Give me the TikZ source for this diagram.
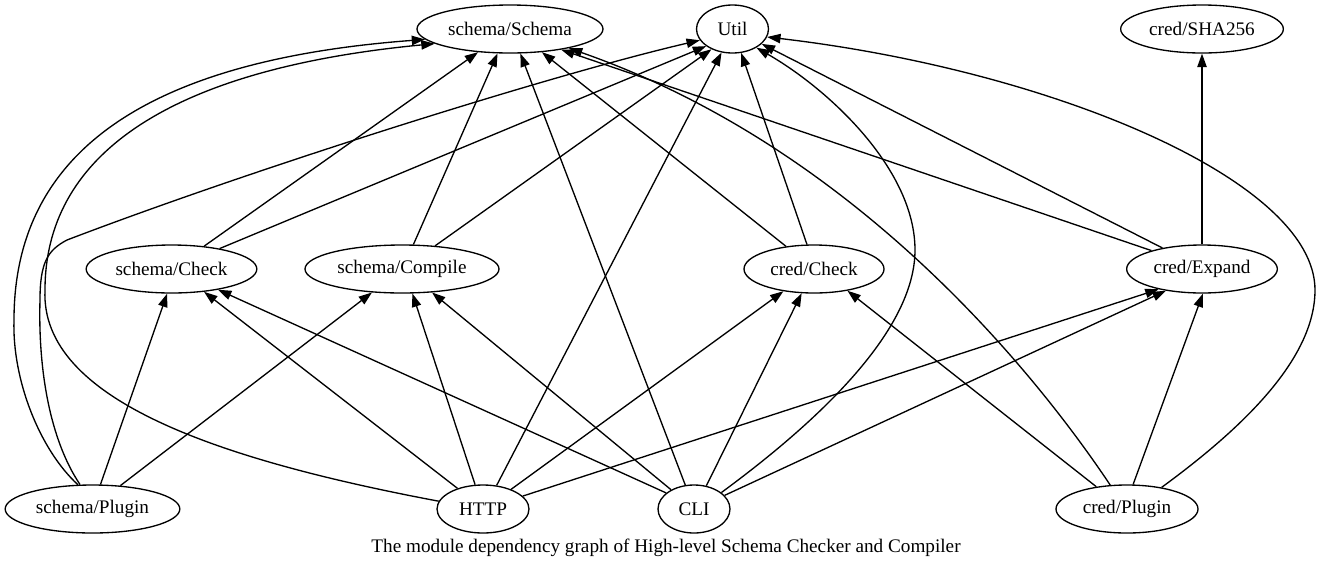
\documentclass[tikz,border=0pt]{standalone}
\usepackage{fontspec}
\setmainfont{Liberation Serif}
\usetikzlibrary{shapes.geometric,arrows.meta}

\tikzset{
    mod/.style={draw, ellipse, line width=1pt, minimum height=36pt, inner sep=0pt,
        font=\fontsize{14.4}{16}\selectfont},
    dep/.style={line width=1pt, -{Triangle[length=10pt,width=7pt]}},
}

\begin{document}
\begin{tikzpicture}[x=0.75pt, y=-0.75pt]
    \useasboundingbox (0,0) rectangle (1332,569);

    % Modules, top row
    \node[mod, minimum width=139.5pt] (schema) at (510,29) {schema/Schema};
    \node[mod, minimum width=54pt] (util) at (732.5,29) {Util};
    \node[mod, minimum width=122pt] (sha) at (1202,29) {cred/SHA256};

    % Modules, middle row
    \node[mod, minimum width=128pt] (scheck) at (171.5,269) {schema/Check};
    \node[mod, minimum width=145.5pt] (scompile) at (402,269) {schema/Compile};
    \node[mod, minimum width=105pt] (ccheck) at (814,269) {cred/Check};
    \node[mod, minimum width=113pt] (cexpand) at (1202,269) {cred/Expand};

    % Modules, bottom row
    \node[mod, minimum width=131pt] (splugin) at (92.5,509) {schema/Plugin};
    \node[mod, minimum width=69pt] (http) at (483,509) {HTTP};
    \node[mod, minimum width=54pt] (cli) at (694,509) {CLI};
    \node[mod, minimum width=106.5pt] (cplugin) at (1127,509) {cred/Plugin};

    % Caption
    \node[font=\fontsize{14.4}{16}\selectfont] (caption) at (666,548)
        {The module dependency graph of High-level Schema Checker and Compiler};

    % Middle row to top row
    \draw[dep] (scheck.35) -- (schema.216);
    \draw[dep] (scheck.23) -- (util.213);
    \draw[dep] (scompile.65) -- (schema.243);
    \draw[dep] (scompile.35) -- (util.224);
    \draw[dep] (ccheck.141) -- (schema.324);
    \draw[dep] (ccheck.106) -- (util.290);
    \draw[dep] (cexpand.160) -- (schema.338);
    \draw[dep] (cexpand.152) -- (util.333);
    \draw[dep] (cexpand.90) -- (sha.270);

    % schema/Plugin
    \draw[dep] (splugin.121) .. controls (40,450) and (12,380) .. (14,320)
        .. controls (14,150) and (150,60) .. (schema.187);
    \draw[dep] (splugin.117) .. controls (50,440) and (38,370) .. (40,300)
        .. controls (40,262) and (48,250) .. (67,240)
        .. controls (250,170) and (550,75) .. (util.199);
    \draw[dep] (splugin.72) -- (scheck.260);
    \draw[dep] (splugin.40) -- (scompile.218);

    % HTTP
    \draw[dep] (http.170) .. controls (220,460) and (40,400) .. (45,290)
        .. controls (45,160) and (160,70) .. (schema.191);
    \draw[dep] (http.141) -- (scheck.325);
    \draw[dep] (http.108) -- (scompile.293);
    \draw[dep] (http.60) -- (util.245);
    \draw[dep] (http.35) -- (ccheck.216);
    \draw[dep] (http.18) -- (cexpand.205);

    % CLI
    \draw[dep] (cli.110) -- (schema.293);
    \draw[dep] (cli.150) -- (scheck.336);
    \draw[dep] (cli.140) -- (scompile.322);
    \draw[dep] (cli.31) .. controls (820,420) and (915,330) .. (915,250)
        .. controls (915,170) and (830,90) .. (util.322);
    \draw[dep] (cli.62) -- (ccheck.243);
    \draw[dep] (cli.24) -- (cexpand.211);

    % cred/Plugin
    \draw[dep] (cplugin.144) -- (ccheck.327);
    \draw[dep] (cplugin.76) -- (cexpand.272);
    \draw[dep] (cplugin.125) .. controls (1040,380) and (860,150) .. (schema.342);
    \draw[dep] (cplugin.32) .. controls (1240,430) and (1315,360) .. (1315,290)
        .. controls (1315,180) and (1050,70) .. (util.347);
\end{tikzpicture}
\end{document}
